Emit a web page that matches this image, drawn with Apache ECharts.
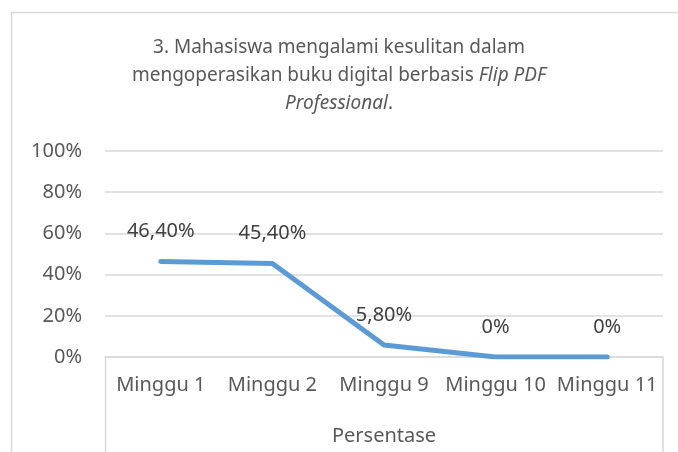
<!DOCTYPE html>
<html>
<head>
<meta charset="utf-8">
<script src="https://cdn.jsdelivr.net/npm/echarts@6/dist/echarts.min.js"></script>
<style>
  html, body { margin: 0; padding: 0; background: #fff; }
  #chart3 { width: 678px; height: 452px; }
</style>
</head>
<body>
<div id="chart3"></div>
<script>
// data
var categories = ['Minggu 1', 'Minggu 2', 'Minggu 9', 'Minggu 10', 'Minggu 11'];
var persentase = [46.4, 45.4, 5.8, 0, 0];
var yTicks = [0, 20, 40, 60, 80, 100];

var font = 'Noto Sans';
var grey = '#595959';
var gridGrey = '#d9d9d9';

function pctLabel(v) {
    // excel style, comma decimal
    return v === 0 ? '0%' : v.toFixed(2).replace('.', ',') + '%';
}

var chart = echarts.init(document.getElementById('chart3'));
var option = {
    animation: false,
    title: {
        left: 'center',
        top: 29,
        text: '3. Mahasiswa mengalami kesulitan dalam\nmengoperasikan buku digital berbasis {i|Flip PDF}\n{i|Professional}.',
        textStyle: {
            fontFamily: font,
            fontSize: 19,
            fontWeight: 'normal',
            color: grey,
            lineHeight: 28,
            align: 'center',
            rich: {
                i: { fontFamily: font, fontSize: 19, fontStyle: 'italic', color: grey, lineHeight: 28 }
            }
        }
    },
    grid: { left: 105, right: 15, top: 151, bottom: 95 },
    xAxis: {
        type: 'category',
        data: categories,
        boundaryGap: true,
        name: 'Persentase',
        nameLocation: 'middle',
        nameGap: 69,
        nameTextStyle: { fontFamily: font, fontSize: 20, color: grey },
        axisLine: { lineStyle: { color: gridGrey, width: 1.5 } },
        axisTick: { show: false },
        axisLabel: { fontFamily: font, fontSize: 20, color: grey, margin: 18, interval: 0 }
    },
    yAxis: {
        type: 'value',
        min: yTicks[0],
        max: yTicks[yTicks.length - 1],
        interval: 20,
        axisLine: { show: false },
        axisTick: { show: false },
        axisLabel: { fontFamily: font, fontSize: 20, color: grey, margin: 23, formatter: '{value}%' },
        splitLine: { lineStyle: { color: gridGrey, width: 1.5 } }
    },
    series: [{
        type: 'line',
        data: persentase,
        symbol: 'circle',
        symbolSize: 2,
        showSymbol: true,
        itemStyle: { color: '#5b9bd5' },
        lineStyle: { color: '#5b9bd5', width: 5, cap: 'round', join: 'round' },
        label: {
            show: true,
            position: 'top',
            distance: 19,
            fontFamily: font,
            fontSize: 20,
            color: '#404040',
            formatter: function (p) { return pctLabel(p.value); }
        }
    }],
    graphic: [
        // chart area border
        { type: 'rect', silent: true, shape: { x: 11.5, y: 12.5, width: 700, height: 500 },
          style: { fill: null, stroke: gridGrey, lineWidth: 1.5 } },
        // multi level category brackets
        { type: 'line', silent: true, shape: { x1: 105.5, y1: 357, x2: 105.5, y2: 452 },
          style: { stroke: gridGrey, lineWidth: 1.5 } },
        { type: 'line', silent: true, shape: { x1: 663, y1: 357, x2: 663, y2: 452 },
          style: { stroke: gridGrey, lineWidth: 1.5 } }
    ]
};
chart.setOption(option);
</script>
</body>
</html>
